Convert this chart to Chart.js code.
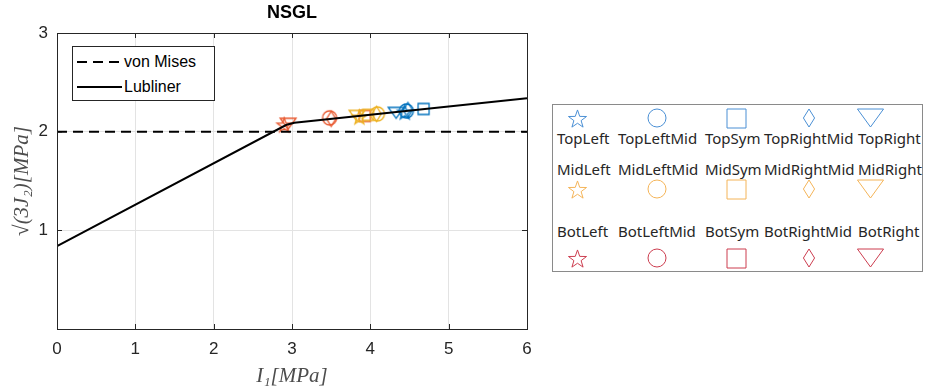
<!DOCTYPE html>
<html lang="en">
<head>
<meta charset="UTF-8">
<title>NSGL</title>
<script src="https://cdn.jsdelivr.net/npm/chart.js"></script>
<style>
    body {
        margin: 0;
        width: 925px;
        height: 392px;
        background: #fff;
        position: relative;
        overflow: hidden;
        font-family: 'Liberation Sans', Arial, sans-serif;
        color: #262626;
    }
    #chartBox { position: absolute; left: 0; top: 0; width: 545px; height: 392px; }
    #plotTitle {
        position: absolute; left: 192px; width: 200px; top: 2px;
        text-align: center; font-weight: bold; font-size: 18px; color: #000;
    }
    /* legend for the two yield curves, sits inside the axes */
    #curveLegend {
        position: absolute; left: 72px; top: 46px; width: 141px; height: 53px;
        border: 1px solid #262626; background: #fff;
    }
    .curveRow { position: absolute; left: 3px; height: 20px; font-size: 16px; line-height: 20px; }
    .curveRow canvas { position: absolute; left: 0; top: 0; }
    .curveRow span { position: absolute; left: 48px; top: 0; white-space: nowrap; color: #000; }
    /* marker legend on the right */
    #caseLegend {
        position: absolute; left: 552px; top: 104px; width: 369px; height: 166px;
        border: 1px solid #8a8a8a; background: #fff;
    }
    .caseLabel {
        position: absolute; font-family: 'Noto Sans', sans-serif; font-size: 15px;
        line-height: 20px; white-space: nowrap; color: #262626;
    }
    .caseMark { position: absolute; }
</style>
</head>
<body>
<div id="chartBox"><canvas id="nsgl" width="545" height="392"></canvas></div>
<div id="plotTitle">NSGL</div>
<div id="curveLegend"></div>
<div id="caseLegend"></div>

<script>
// yield surfaces in the I1 - sqrt(3J2) plane
const vonMisesI1 = [0, 6];
const vonMisesQ = [2, 2];
const lublinerI1 = [0, 2.93, 3.03, 6];
const lublinerQ = [0.84, 2.07, 2.09, 2.34];

// failure points per specimen position
const rowNames = ['Top', 'Mid', 'Bot'];
const colNames = ['Left', 'LeftMid', 'Sym', 'RightMid', 'Right'];
const shapes = ['star', 'circle', 'square', 'diamond', 'triangle'];
const topI1 = [4.44, 4.46, 4.68, 4.48, 4.33];
const topQ  = [2.20, 2.21, 2.23, 2.22, 2.19];
const midI1 = [3.86, 4.09, 3.97, 4.08, 3.83];
const midQ  = [2.15, 2.18, 2.17, 2.18, 2.16];
const botI1 = [2.90, 3.48, 3.93, 3.50, 2.95];
const botQ  = [2.07, 2.14, 2.16, 2.13, 2.08];

const xTicks = [0, 1, 2, 3, 4, 5, 6];
const yTicks = [0, 1, 2, 3];

const plotColors = ['#0072BD', '#EDB120', '#E8562C'];
const legendColors = ['#4a8fd4', '#f4b458', '#cc3d4f'];

// hollow marker drawn on a small canvas, used as pointStyle and in the legend
function makeMarker(shape, color, size, lw) {
    const pad = Math.ceil(lw) + 1;
    const w = shape === 'triangle' ? size * 1.45 : size;
    const c = document.createElement('canvas');
    c.width = Math.ceil(w + 2 * pad);
    c.height = Math.ceil(size + 2 * pad);
    const g = c.getContext('2d');
    g.strokeStyle = color;
    g.lineWidth = lw;
    const cx = c.width / 2, cy = c.height / 2, r = size / 2;
    g.beginPath();
    if (shape === 'star') {
        const yOff = r * 0.1;
        for (let i = 0; i < 10; i++) {
            const a = -Math.PI / 2 + i * Math.PI / 5;
            const rad = i % 2 ? r * 0.4 : r;
            const px = cx + rad * Math.cos(a), py = cy + yOff + rad * Math.sin(a);
            i ? g.lineTo(px, py) : g.moveTo(px, py);
        }
    } else if (shape === 'circle') {
        g.arc(cx, cy, r, 0, Math.PI * 2);
    } else if (shape === 'square') {
        g.rect(cx - r, cy - r, 2 * r, 2 * r);
    } else if (shape === 'diamond') {
        g.moveTo(cx, cy - r);
        g.lineTo(cx + r * 0.62, cy);
        g.lineTo(cx, cy + r);
        g.lineTo(cx - r * 0.62, cy);
    } else {
        g.moveTo(cx - w / 2, cy - r);
        g.lineTo(cx + w / 2, cy - r);
        g.lineTo(cx, cy + r);
    }
    g.closePath();
    g.stroke();
    return c;
}

const plotSizes = { star: 15, circle: 14, square: 11, diamond: 15, triangle: 11 };
const legendSizes = { star: 19, circle: 18, square: 19, diamond: 18, triangle: 18 };

const pointGroups = [[topI1, topQ], [midI1, midQ], [botI1, botQ]];
const caseSets = [];
rowNames.forEach((row, r) => {
    colNames.forEach((col, c) => {
        caseSets.push({
            label: row + col,
            data: [{ x: pointGroups[r][0][c], y: pointGroups[r][1][c] }],
            showLine: false,
            pointStyle: makeMarker(shapes[c], plotColors[r], plotSizes[shapes[c]], 1.3),
            pointRadius: 7,
            order: 2
        });
    });
});

const curveSets = [
    {
        label: 'von Mises',
        data: vonMisesI1.map((x, i) => ({ x: x, y: vonMisesQ[i] })),
        borderColor: '#000', borderWidth: 2, borderDash: [10, 6],
        showLine: true, pointRadius: 0, order: 1
    },
    {
        label: 'Lubliner',
        data: lublinerI1.map((x, i) => ({ x: x, y: lublinerQ[i] })),
        borderColor: '#000', borderWidth: 2,
        showLine: true, pointRadius: 0, order: 0
    }
];

// box around the axes with inward tick marks on all four sides
const axesFrame = {
    id: 'axesFrame',
    afterDraw(chart) {
        const { ctx, chartArea: a, scales } = chart;
        ctx.save();
        ctx.strokeStyle = '#262626';
        ctx.lineWidth = 1;
        ctx.beginPath();
        xTicks.forEach(v => {
            const px = Math.round(scales.x.getPixelForValue(v)) + 0.5;
            ctx.moveTo(px, a.bottom); ctx.lineTo(px, a.bottom - 5);
            ctx.moveTo(px, a.top); ctx.lineTo(px, a.top + 5);
        });
        yTicks.forEach(v => {
            const py = Math.round(scales.y.getPixelForValue(v)) + 0.5;
            ctx.moveTo(a.left, py); ctx.lineTo(a.left + 5, py);
            ctx.moveTo(a.right, py); ctx.lineTo(a.right - 5, py);
        });
        ctx.stroke();
        ctx.strokeRect(Math.round(a.left) + 0.5, Math.round(a.top) + 0.5,
            Math.round(a.right - a.left), Math.round(a.bottom - a.top));
        ctx.restore();
    }
};

const tickFont = { family: "'Liberation Sans', Arial, sans-serif", size: 17 };
const labelFont = { family: "'Liberation Serif', 'DejaVu Serif', serif", size: 21, style: 'italic' };

new Chart(document.getElementById('nsgl'), {
    type: 'scatter',
    data: { datasets: curveSets.concat(caseSets) },
    options: {
        responsive: false,
        animation: false,
        layout: { padding: { top: 33, right: 18, left: 0, bottom: 0 } },
        plugins: { legend: { display: false }, tooltip: { enabled: false } },
        scales: {
            x: {
                type: 'linear', min: 0, max: 6,
                afterFit(scale) { scale.height = 63; },
                afterBuildTicks(scale) { scale.ticks = xTicks.map(v => ({ value: v })); },
                grid: { color: '#e3e3e3', drawTicks: false },
                border: { display: false },
                ticks: { color: '#262626', font: tickFont, padding: 10 },
                title: { display: true, text: 'I₁[MPa]', color: '#4d4d4d', font: labelFont, padding: { top: 0, bottom: 3 } }
            },
            y: {
                type: 'linear', min: 0, max: 3,
                afterFit(scale) { scale.width = 57; },
                afterBuildTicks(scale) { scale.ticks = yTicks.map(v => ({ value: v })); },
                grid: { color: '#e3e3e3', drawTicks: false },
                border: { display: false },
                ticks: { color: '#262626', font: tickFont, padding: 9, callback: v => (v === 0 ? '' : v) },
                title: { display: true, text: '√(3J₂)[MPa]', color: '#4d4d4d', font: labelFont, padding: { top: 10, bottom: 0 } }
            }
        }
    },
    plugins: [axesFrame]
});

// curve legend inside the axes
const curveLegend = document.getElementById('curveLegend');
curveSets.forEach((ds, i) => {
    const row = document.createElement('div');
    row.className = 'curveRow';
    row.style.top = (5 + i * 25) + 'px';
    const sample = document.createElement('canvas');
    sample.width = 46; sample.height = 20;
    const g = sample.getContext('2d');
    g.strokeStyle = ds.borderColor;
    g.lineWidth = ds.borderWidth;
    g.setLineDash(ds.borderDash || []);
    g.beginPath(); g.moveTo(1, 10); g.lineTo(46, 10); g.stroke();
    const text = document.createElement('span');
    text.textContent = ds.label;
    row.appendChild(sample);
    row.appendChild(text);
    curveLegend.appendChild(row);
});

// marker legend: Top row has marker above label, Mid/Bot rows label above marker
const caseLegend = document.getElementById('caseLegend');
const labelLeft = [4, 65, 152, 211, 305];
const markCenter = [24, 104, 183, 256, 317];
const labelMid = [33, 64, 126];
const markMid = [13, 84, 153];
rowNames.forEach((row, r) => {
    colNames.forEach((col, c) => {
        const lab = document.createElement('div');
        lab.className = 'caseLabel';
        lab.textContent = row + col;
        lab.style.left = labelLeft[c] + 'px';
        lab.style.top = (labelMid[r] - 10) + 'px';
        caseLegend.appendChild(lab);
        const m = makeMarker(shapes[c], legendColors[r], legendSizes[shapes[c]], 1);
        m.className = 'caseMark';
        m.style.left = (markCenter[c] - m.width / 2) + 'px';
        m.style.top = (markMid[r] - m.height / 2) + 'px';
        caseLegend.appendChild(m);
    });
});
</script>
</body>
</html>
